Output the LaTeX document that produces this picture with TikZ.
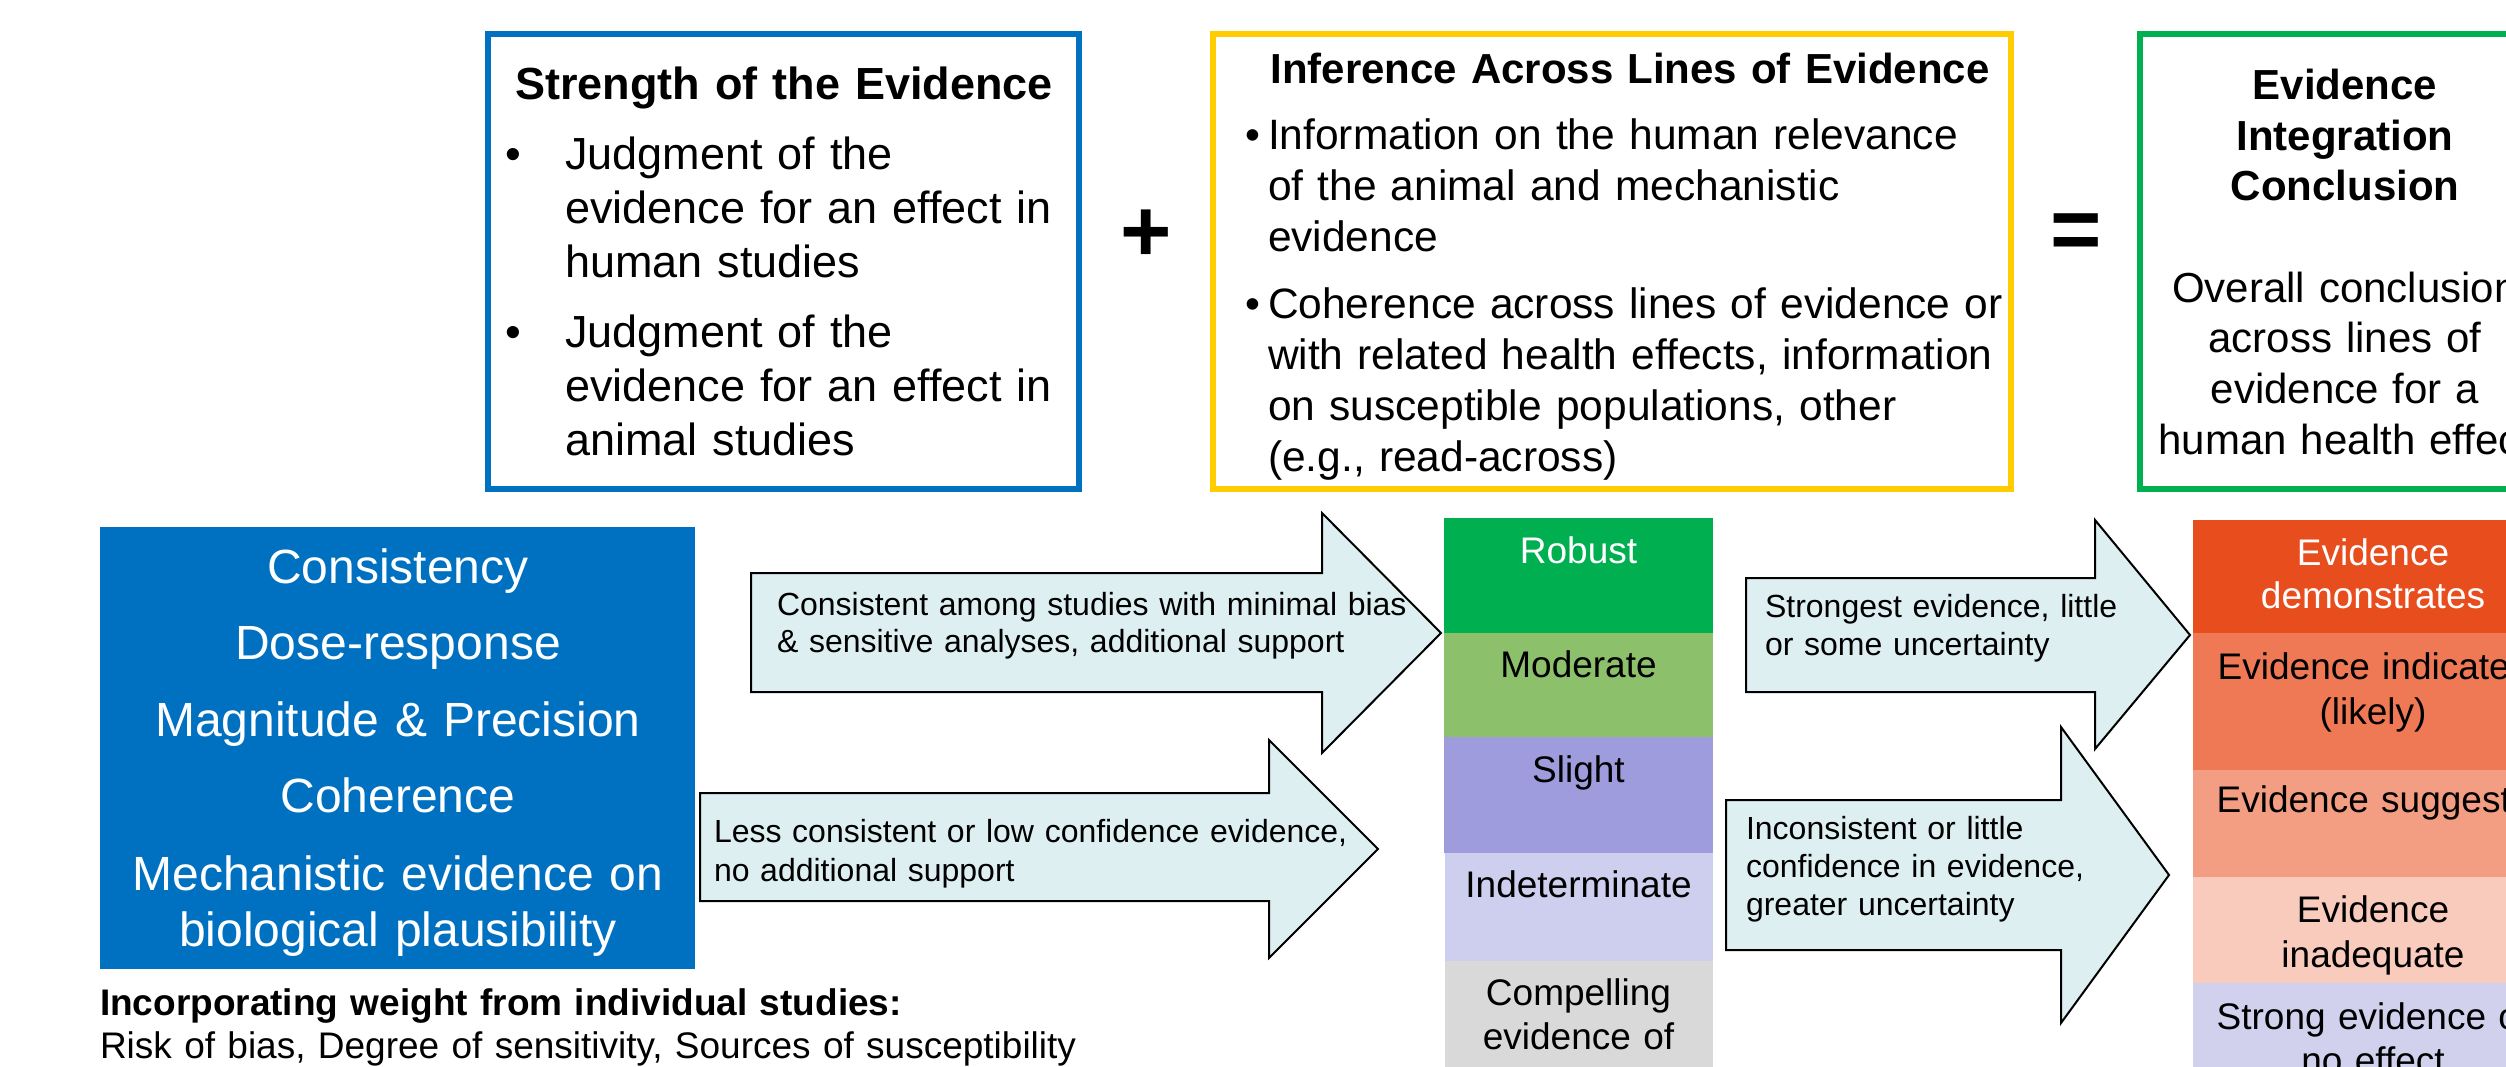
\documentclass[tikz,border=0pt]{standalone}
\usepackage{fontspec}
\setmainfont{Liberation Sans}
\hyphenpenalty=10000
\exhyphenpenalty=10000
\newcommand{\myfs}[2]{\fontsize{#1}{#2}\selectfont}
\definecolor{cblue}{HTML}{0070C0}
\definecolor{cyellow}{HTML}{FFCC00}
\definecolor{cgreen}{HTML}{00B050}
\definecolor{arrowfill}{HTML}{DEEFF2}
\definecolor{cmoderate}{HTML}{8DC06A}
\definecolor{cslight}{HTML}{9E9CDC}
\definecolor{cindet}{HTML}{CECEEE}
\definecolor{ccompel}{HTML}{D9D9D9}
\definecolor{cdemo}{HTML}{E84D1E}
\definecolor{cindic}{HTML}{EF7955}
\definecolor{csugg}{HTML}{F39E82}
\definecolor{cinad}{HTML}{F8CBBC}
\definecolor{cnoeff}{HTML}{D1D1EE}
\tikzset{
  txt/.style={inner sep=0pt, outer sep=0pt, align=left, anchor=base west, text width=1300pt},
  ctxt/.style={inner sep=0pt, outer sep=0pt, align=center, anchor=base},
  framebox/.style={line width=6pt, fill=white},
  bigarrow/.style={fill=arrowfill, draw=black, line width=2pt, line join=miter},
}
\begin{document}
\begin{tikzpicture}[x=1pt,y=-1pt]
\useasboundingbox (0,0) rectangle (2506,1066);
\clip (0,0) rectangle (2506,1066);
\fill[white] (0,0) rectangle (2506,1066);

% ---------- top framed boxes ----------
\draw[framebox, draw=cblue] (488,34) rectangle (1079,489);
\draw[framebox, draw=cyellow] (1213,34) rectangle (2011,489);
\draw[framebox, draw=cgreen] (2140,34) rectangle (2560,489);

% Strength of the Evidence
\node[ctxt, text width=580pt, font=\bfseries\myfs{45}{54}] (st) at (784,99.5) {Strength of the Evidence};
\node[txt, font=\myfs{45}{54}] (sb1) at (505,169) {\textbullet};
\node[txt, text width=500pt, font=\myfs{45}{54}] (sx1) at (565,169) {Judgment of the\\evidence for an effect in\\human studies};
\node[txt, font=\myfs{45}{54}] (sb2) at (505,347) {\textbullet};
\node[txt, text width=500pt, font=\myfs{45}{54}] (sx2) at (565,347) {Judgment of the\\evidence for an effect in\\animal studies};

% plus
\node[inner sep=0pt, font=\bfseries\myfs{88}{100}] (plus) at (1146,236) {+};

% Inference Across Lines of Evidence
\node[ctxt, text width=780pt, font=\bfseries\myfs{42}{50}] (it) at (1630,83) {Inference Across Lines of Evidence};
\node[txt, font=\myfs{42.5}{51.3}] (ib1) at (1245,149) {\textbullet};
\node[txt, text width=740pt, font=\myfs{42.5}{51.3}] (ix1) at (1268,149) {Information on the human relevance\\of the animal and mechanistic\\evidence};
\node[txt, font=\myfs{42.5}{51}] (ib2) at (1245,318) {\textbullet};
\node[txt, text width=740pt, font=\myfs{42.5}{51}] (ix2) at (1268,318) {Coherence across lines of evidence or\\with related health effects, information\\on susceptible populations, other\\(e.g., read-across)};

% equals
\node[inner sep=0pt, font=\bfseries\myfs{88}{100}] (eq) at (2076,237) {=};

% Evidence Integration Conclusion
\node[ctxt, text width=400pt, font=\bfseries\myfs{42}{50.6}] (et) at (2345,99.5) {Evidence\\Integration\\Conclusion};
\node[ctxt, text width=420pt, font=\myfs{42}{50.7}] (ex) at (2345,302) {Overall conclusion\\across lines of\\evidence for a\\human health effect};

% ---------- left blue block ----------
\fill[cblue] (100,527) rectangle (695,969);
\node[ctxt, text width=590pt, text=white, font=\myfs{48}{56}] (c1) at (398,583) {Consistency};
\node[ctxt, text width=590pt, text=white, font=\myfs{48}{56}] (c2) at (398,659) {Dose-response};
\node[ctxt, text width=590pt, text=white, font=\myfs{48}{56}] (c3) at (398,736) {Magnitude \& Precision};
\node[ctxt, text width=590pt, text=white, font=\myfs{48}{56}] (c4) at (398,812) {Coherence};
\node[ctxt, text width=590pt, text=white, font=\myfs{48}{56}] (c5) at (398,890) {Mechanistic evidence on\\biological plausibility};

\node[txt, font=\bfseries\myfs{37}{44}] (w1) at (100,1015) {Incorporating weight from individual studies:};
\node[txt, font=\myfs{37}{44}] (w2) at (100,1058) {Risk of bias, Degree of sensitivity, Sources of susceptibility};

% ---------- arrows ----------
\draw[bigarrow] (751,573) -- (1322,573) -- (1322,513) -- (1441,633) -- (1322,753) -- (1322,692) -- (751,692) -- cycle;
\node[txt, text width=700pt, font=\myfs{32}{37}] (a1) at (777,615) {Consistent among studies with minimal bias\\\& sensitive analyses, additional support};

\draw[bigarrow] (700,793) -- (1269,793) -- (1269,740) -- (1378,849) -- (1269,958) -- (1269,901) -- (700,901) -- cycle;
\node[txt, text width=700pt, font=\myfs{32}{39}] (a2) at (714,842) {Less consistent or low confidence evidence,\\no additional support};

\draw[bigarrow] (1746,578) -- (2095,578) -- (2095,520) -- (2190,635) -- (2095,749) -- (2095,692) -- (1746,692) -- cycle;
\node[txt, text width=400pt, font=\myfs{32}{38}] (a3) at (1765,617) {Strongest evidence, little\\or some uncertainty};

\draw[bigarrow] (1726,800) -- (2061,800) -- (2061,727) -- (2169,875) -- (2061,1023) -- (2061,950) -- (1726,950) -- cycle;
\node[txt, text width=400pt, font=\myfs{32}{38}] (a4) at (1746,839) {Inconsistent or little\\confidence in evidence,\\greater uncertainty};

% ---------- middle column ----------
\fill[cgreen] (1444,518) rectangle (1713,633);
\fill[cmoderate] (1444,633) rectangle (1713,737);
\fill[cslight] (1444,737) rectangle (1713,853);
\fill[cindet] (1445,853) rectangle (1713,961);
\fill[ccompel] (1445,961) rectangle (1713,1070);
\node[ctxt, text width=260pt, text=white, font=\myfs{37}{44}] (m1) at (1578.5,563) {Robust};
\node[ctxt, text width=260pt, font=\myfs{37}{44}] (m2) at (1578.5,677) {Moderate};
\node[ctxt, text width=260pt, font=\myfs{37}{44}] (m3) at (1578.5,782) {Slight};
\node[ctxt, text width=260pt, font=\myfs{37}{44}] (m4) at (1578.5,897) {Indeterminate};
\node[ctxt, text width=260pt, font=\myfs{37}{44}] (m5) at (1578.5,1005) {Compelling\\evidence of};

% ---------- right column ----------
\fill[cdemo] (2193,520) rectangle (2560,633);
\fill[cindic] (2193,633) rectangle (2560,770);
\fill[csugg] (2193,770) rectangle (2560,877);
\fill[cinad] (2193,877) rectangle (2560,983);
\fill[cnoeff] (2193,983) rectangle (2560,1070);
\node[ctxt, text width=420pt, text=white, font=\myfs{37}{43.5}] (r1) at (2373,565) {Evidence\\demonstrates};
\node[ctxt, text width=420pt, font=\myfs{37}{45}] (r2) at (2373,679) {Evidence indicates\\(likely)};
\node[ctxt, text width=420pt, font=\myfs{37}{45}] (r3) at (2373,812) {Evidence suggests};
\node[ctxt, text width=420pt, font=\myfs{37}{45}] (r4) at (2373,922) {Evidence\\inadequate};
\node[ctxt, text width=420pt, font=\myfs{37}{44}] (r5) at (2373,1029) {Strong evidence of\\no effect};
\end{tikzpicture}
\end{document}
